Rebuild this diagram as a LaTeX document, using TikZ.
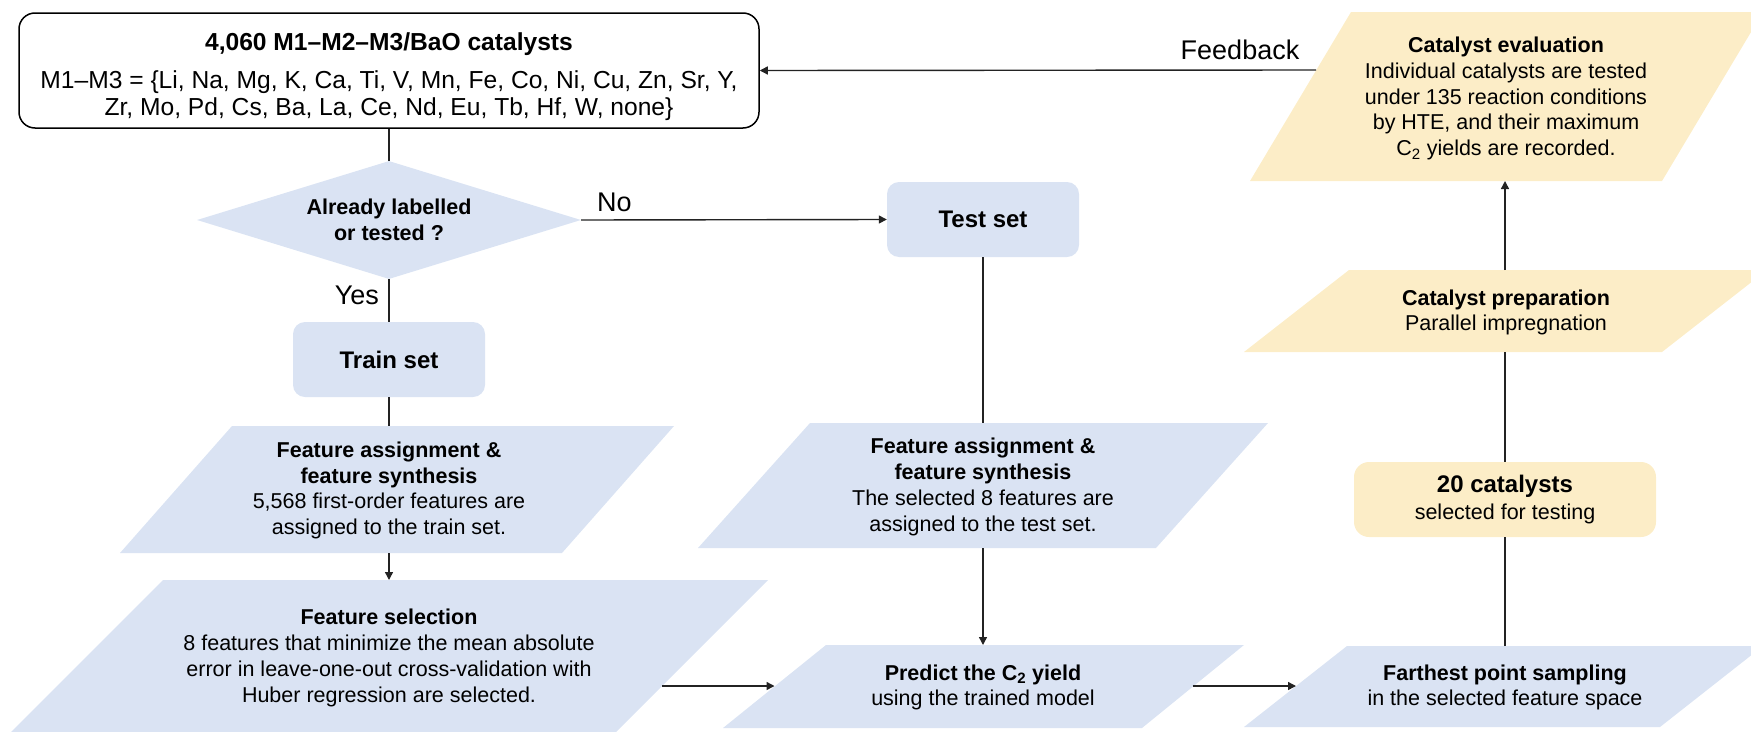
\documentclass[tikz,border=0pt]{standalone}
\usepackage{fontspec}
\setmainfont{Liberation Sans}
\usetikzlibrary{arrows.meta,shapes.geometric}
\definecolor{bluef}{RGB}{218,227,243}
\definecolor{yelf}{RGB}{252,237,199}
\definecolor{lnc}{RGB}{35,35,35}
\newcommand{\bodyf}{\fontsize{21.5}{25.8}\selectfont}
\newcommand{\topf}{\fontsize{24.6}{27}\selectfont}
\newcommand{\labf}{\fontsize{27}{30}\selectfont}
\begin{document}
\begin{tikzpicture}[x=1pt,y=-1pt,
  ln/.style={draw=lnc,line width=1.4pt},
  arr/.style={ln,-{Triangle[length=8pt,width=8pt]}},
  txt/.style={inner sep=0pt,align=center,font=\bodyf},
  lab/.style={inner sep=0pt,font=\labf},
  setbox/.style={fill=bluef,rounded corners=12pt,minimum width=192pt,minimum height=75pt,inner sep=0pt,font=\fontsize{24}{28}\selectfont\bfseries}]
\useasboundingbox (0,0) rectangle (1751,731);

% ---- parallelogram shapes ----
\fill[yelf] (1351,12) -- (1763,12) -- (1662,181) -- (1250,181) -- cycle;
\fill[yelf] (1349,270) -- (1767,270) -- (1662,352) -- (1244,352) -- cycle;
\fill[bluef] (232,426) -- (674,426) -- (562,553) -- (120,553) -- cycle;
\fill[bluef] (163,580) -- (768,580) -- (615,733) -- (10,733) -- cycle;
\fill[bluef] (810,423) -- (1268,423) -- (1156,548) -- (698,548) -- cycle;
\fill[bluef] (826,645) -- (1244,645) -- (1142,728) -- (723,728) -- cycle;
\fill[bluef] (1347,646) -- (1763,646) -- (1660,727) -- (1244,727) -- cycle;

% ---- connector end points on the parallelograms ----
\coordinate (evalL) at (1316,70);
\coordinate (evalB) at (1505,181);
\coordinate (prepT) at (1505,270);
\coordinate (prepB) at (1505,352);
\coordinate (trainAT) at (389,426);
\coordinate (trainAB) at (389,553);
\coordinate (selT) at (389,580);
\coordinate (selR) at (662,686);
\coordinate (testAT) at (983,423);
\coordinate (testAB) at (983,548);
\coordinate (predT) at (983,645);
\coordinate (predL) at (774.5,686);
\coordinate (predR) at (1192.5,686);
\coordinate (farL) at (1296,686);
\coordinate (farT) at (1505,646);

% ---- boxes ----
\node[draw=black,line width=1.5pt,fill=white,rounded corners=16pt,minimum width=740pt,minimum height=115pt,inner sep=0pt,align=center,font=\topf] (top) at (389,70.5)
  {\rule{0pt}{30pt}\textbf{4,060 M1--M2--M3/BaO catalysts}\\[11pt]
   M1--M3 = \{Li, Na, Mg, K, Ca, Ti, V, Mn, Fe, Co, Ni, Cu, Zn, Sr, Y,\\
   Zr, Mo, Pd, Cs, Ba, La, Ce, Nd, Eu, Tb, Hf, W, none\}};

\node[diamond,shape aspect=3.25,fill=bluef,minimum width=384pt,minimum height=118pt,inner sep=0pt,align=center,font=\bodyf\bfseries] (dia) at (389,220)
  {Already labelled\\or tested ?};

\node[setbox] (train) at (389,359.5) {Train set};
\node[setbox] (test) at (983,219.5) {Test set};

\node[fill=yelf,rounded corners=15pt,minimum width=302pt,minimum height=75pt,inner sep=0pt,align=center,font=\bodyf] (cat20) at (1505,499.5)
  {{\fontsize{24}{28}\selectfont\bfseries 20 catalysts}\\[1pt]selected for testing};

% ---- texts inside parallelograms ----
\node[txt] (evalTx) at (1506,98.5)
  {\textbf{Catalyst evaluation}\\Individual catalysts are tested\\under 135 reaction conditions\\by HTE, and their maximum\\C\textsubscript{2} yields are recorded.};
\node[txt] (prepTx) at (1506,312.5)
  {\textbf{Catalyst preparation}\\Parallel impregnation};
\node[txt] (trainATx) at (389,490.5)
  {\textbf{Feature assignment \&}\\\textbf{feature synthesis}\\5,568 first-order features are\\assigned to the train set.};
\node[txt] (selTx) at (389,658)
  {\textbf{Feature selection}\\8 features that minimize the mean absolute\\error in leave-one-out cross-validation with\\Huber regression are selected.};
\node[txt] (testATx) at (983,487)
  {\textbf{Feature assignment \&}\\\textbf{feature synthesis}\\The selected 8 features are\\assigned to the test set.};
\node[txt] (predTx) at (983,687.5)
  {\textbf{Predict the C\textsubscript{2} yield}\\using the trained model};
\node[txt] (farTx) at (1505,687.5)
  {\textbf{Farthest point sampling}\\in the selected feature space};

% ---- labels ----
\node[lab] (fb) at (1240,50) {Feedback};
\node[lab,anchor=west] (no) at (597,202) {No};
\node[lab,anchor=east] (yes) at (379,295) {Yes};

% ---- connectors ----
\draw[arr] (evalL) -- (top.east);
\draw[ln] (top.south) -- (dia.north);
\draw[arr] (dia.east) -- (test.west);
\draw[ln] (dia.south) -- (train.north);
\draw[ln] (train.south) -- (trainAT);
\draw[arr] (trainAB) -- (selT);
\draw[arr] (selR) -- (predL);
\draw[ln] (test.south) -- (testAT);
\draw[arr] (testAB) -- (predT);
\draw[arr] (predR) -- (farL);
\draw[ln] (farT) -- (cat20.south);
\draw[ln] (cat20.north) -- (prepB);
\draw[arr] (prepT) -- (evalB);
\end{tikzpicture}
\end{document}
